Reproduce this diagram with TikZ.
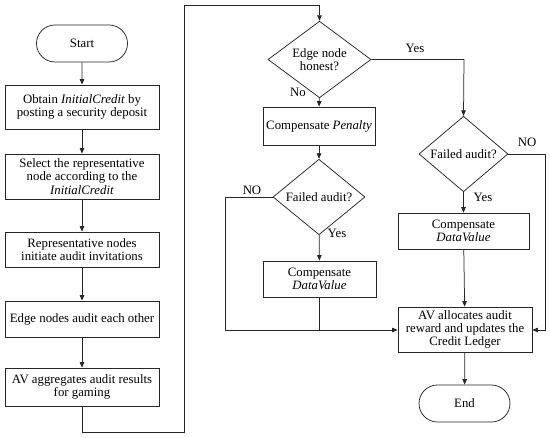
\documentclass[tikz,border=0pt]{standalone}
\usepackage{fontspec}
\setmainfont{Liberation Serif}
\usetikzlibrary{shapes.geometric,shapes.misc,arrows.meta}
\begin{document}
\begin{tikzpicture}[x=1pt,y=-1pt,
  every node/.style={font=\fontsize{12.8}{13.2}\selectfont, text=black},
  line/.style={draw=black!85, line width=0.75pt},
  arr/.style={line, -{Triangle[length=5.5pt,width=4.5pt]}},
  box/.style={line, rectangle, align=center, inner sep=0pt},
  term/.style={line, rounded rectangle, inner sep=0pt, minimum width=91pt, minimum height=37pt},
  dec/.style={line, diamond, align=center, inner sep=0pt},
  lbl/.style={inner sep=0pt}]
\useasboundingbox (0,0) rectangle (550,438);
% left column
\node[term] (start) at (82,43.5) {Start};
\node[box, minimum width=154pt, minimum height=44pt] (obtain) at (82,107) {Obtain \textit{InitialCredit} by\\posting a security deposit};
\node[box, minimum width=154pt, minimum height=45pt] (select) at (82,176.5) {Select the representative\\node according to the\\\textit{InitialCredit}};
\node[box, minimum width=154pt, minimum height=35pt] (rep) at (82,249.5) {Representative nodes\\initiate audit invitations};
\node[box, minimum width=154pt, minimum height=36pt] (edge) at (82,319) {Edge nodes audit each other};
\node[box, minimum width=154pt, minimum height=38pt] (agg) at (82,387) {AV aggregates audit results\\for gaming};
% middle column
\node[dec, minimum width=103pt, minimum height=55pt] (honest) at (319.5,59.5) {Edge node\\honest?};
\node[box, minimum width=112pt, minimum height=38pt] (pen) at (319,126) {Compensate \textit{Penalty}};
\node[dec, minimum width=92pt, minimum height=54pt] (fail1) at (319,197) {Failed audit?};
\node[box, minimum width=113pt, minimum height=36pt] (dv1) at (319.5,279) {Compensate\\\textit{DataValue}};
% right column
\node[dec, minimum width=89pt, minimum height=54pt] (fail2) at (463.5,154) {Failed audit?};
\node[box, minimum width=131pt, minimum height=36pt] (dv2) at (463.5,231) {Compensate\\\textit{DataValue}};
\node[box, minimum width=134pt, minimum height=45pt] (alloc) at (465,329.5) {AV allocates audit\\reward and updates the\\Credit Ledger};
\node[term] (end) at (464.5,403.5) {End};
% labels
\node[lbl] (lno1) at (298,92) {No};
\node[lbl] (lyes1) at (415,48) {Yes};
\node[lbl] (lno2) at (252,190) {NO};
\node[lbl] (lyes2) at (337,233) {Yes};
\node[lbl] (lno3) at (527,142) {NO};
\node[lbl] (lyes3) at (483,197) {Yes};
% coordinates
\coordinate (c1) at (82,432);
\coordinate (c2) at (184,432);
\coordinate (c3) at (184,5);
\coordinate (c4) at (319.5,5);
\coordinate (c5) at (464,59.5);
\coordinate (c6) at (225,197);
\coordinate (c7) at (225,330);
\coordinate (c8) at (319.5,330);
\coordinate (c9) at (545,154);
\coordinate (c10) at (545,330);
% connectors
\draw[arr] (start) -- (obtain);
\draw[arr] (obtain) -- (select);
\draw[arr] (select) -- (rep);
\draw[arr] (rep) -- (edge);
\draw[arr] (edge) -- (agg);
\draw[arr] (agg.south) -- (c1) -- (c2) -- (c3) -- (c4) -- (honest.north);
\draw[arr] (honest) -- (pen);
\draw[arr] (pen) -- (fail1);
\draw[arr] (fail1) -- (dv1);
\draw[line] (dv1.south) -- (c8);
\draw[arr] (fail1.west) -- (c6) -- (c7) -- (alloc.west |- c7);
\draw[arr] (honest.east) -- (c5) -- (fail2.north);
\draw[arr] (fail2) -- (dv2);
\draw[arr] (fail2.east) -- (c9) -- (c10) -- (alloc.east |- c10);
\draw[arr] (dv2) -- (alloc);
\draw[arr] (alloc) -- (end);
\end{tikzpicture}
\end{document}
